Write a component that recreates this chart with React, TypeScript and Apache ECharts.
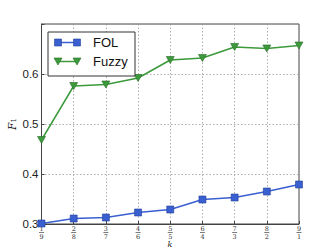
import React, { useEffect, useRef } from "react";
import * as echarts from "echarts";

const numerators = ["1", "2", "3", "4", "5", "6", "7", "8", "9"];
const denominators = ["9", "8", "7", "6", "5", "4", "3", "2", "1"];
const categories = numerators.map((n, i) => `${n}/${denominators[i]}`);
const folValues = [0.301, 0.311, 0.313, 0.323, 0.329, 0.349, 0.353, 0.365, 0.379];
const fuzzyValues = [0.468, 0.576, 0.579, 0.592, 0.628, 0.632, 0.654, 0.651, 0.657];
const yTicks = [0.3, 0.4, 0.5, 0.6];
const seriesNames = ["FOL", "Fuzzy"];
const xName = "k";
const yName = ["F", "1"];

const BLUE = "#3a5fd0";
const BLUE_EDGE = "#23409a";
const GREEN = "#3c9a3c";
const GREEN_EDGE = "#256b25";

export default function App() {
  const ref = useRef<HTMLDivElement>(null);
  useEffect(() => {
    if (!ref.current) return;
    const chart = echarts.init(ref.current, null, { renderer: "svg" });
    const legendX = 48, legendY = 32;
    chart.setOption({
      animation: false,
      backgroundColor: "#ffffff",
      grid: {
        left: 41.5,
        right: 33,
        top: 24,
        bottom: 25,
        containLabel: false,
        outerBoundsMode: "none",
        show: true,
        borderColor: "#444",
        borderWidth: 1,
        backgroundColor: "#ffffff",
      },
      xAxis: {
        type: "category",
        data: categories,
        boundaryGap: false,
        axisLine: { show: true, lineStyle: { color: "#444", width: 1 } },
        axisTick: { show: true, inside: true, length: 3, lineStyle: { color: "#444" } },
        splitLine: { show: true, lineStyle: { color: "#999", type: [1.5, 2], width: 0.8 } },
        axisLabel: {
          margin: 1.5,
          interval: 0,
          formatter: (v: string) => {
            const [n, d] = v.split("/");
            return `{n|${n}}\n{b| }\n{d|${d}}`;
          },
          rich: {
            n: { fontFamily: "DejaVu Serif", fontSize: 6.5, lineHeight: 6, color: "#333", align: "center" },
            b: { width: 5, height: 0.7, lineHeight: 2, backgroundColor: "#444", fontSize: 1, align: "center" },
            d: { fontFamily: "DejaVu Serif", fontSize: 6.5, lineHeight: 6.5, color: "#333", align: "center" },
          },
        },
      },
      yAxis: {
        type: "value",
        min: 0.3,
        max: 0.7,
        interval: 0.1,
        axisLine: { show: true, lineStyle: { color: "#444", width: 1 } },
        axisTick: { show: true, inside: true, length: 3, lineStyle: { color: "#444" } },
        splitLine: { show: true, lineStyle: { color: "#999", type: [1.5, 2], width: 0.8 } },
        axisLabel: {
          margin: 3,
          fontFamily: "Liberation Sans",
          fontSize: 11.5,
          color: "#222",
          formatter: (v: number) => {
            const t = yTicks.find((y) => Math.abs(y - v) < 1e-6);
            return t !== undefined ? t.toFixed(1) : "";
          },
        },
      },
      series: [
        {
          name: seriesNames[0],
          type: "line",
          data: folValues,
          symbol: "rect",
          symbolSize: 7,
          lineStyle: { color: BLUE, width: 1.5 },
          itemStyle: { color: BLUE, borderColor: BLUE_EDGE, borderWidth: 0.6 },
          z: 3,
        },
        {
          name: seriesNames[1],
          type: "line",
          data: fuzzyValues,
          symbol: "triangle",
          symbolRotate: 180,
          symbolSize: [8, 7],
          lineStyle: { color: GREEN, width: 1.5 },
          itemStyle: { color: GREEN, borderColor: GREEN_EDGE, borderWidth: 0.6 },
          z: 3,
        },
      ],
      graphic: [
        {
          type: "text",
          x: 170,
          y: 244.5,
          style: {
            text: xName,
            fontFamily: "DejaVu Serif",
            fontStyle: "italic",
            fontSize: 8,
            fill: "#222",
            align: "center",
            verticalAlign: "middle",
          },
        },
        {
          type: "text",
          x: 12,
          y: 124,
          rotation: Math.PI / 2,
          style: {
            text: `{f|${yName[0]}}{s|${yName[1]}}`,
            align: "center",
            verticalAlign: "middle",
            rich: {
              f: { fontFamily: "DejaVu Serif", fontStyle: "italic", fontSize: 10.5, fill: "#222" },
              s: { fontFamily: "DejaVu Serif", fontSize: 7, fill: "#222", padding: [4, 0, 0, 0] },
            },
          },
        },
        {
          type: "rect",
          shape: { x: legendX, y: legendY, width: 87, height: 44 },
          style: { fill: "#fff", stroke: "#333", lineWidth: 1 },
          z: 10,
        },
        {
          type: "line",
          shape: { x1: legendX + 10, y1: legendY + 10.5, x2: legendX + 29, y2: legendY + 10.5 },
          style: { stroke: BLUE, lineWidth: 1.5 },
          z: 11,
        },
        {
          type: "rect",
          shape: { x: legendX + 6.5, y: legendY + 7, width: 7, height: 7 },
          style: { fill: BLUE, stroke: BLUE_EDGE, lineWidth: 0.6 },
          z: 12,
        },
        {
          type: "rect",
          shape: { x: legendX + 25.5, y: legendY + 7, width: 7, height: 7 },
          style: { fill: BLUE, stroke: BLUE_EDGE, lineWidth: 0.6 },
          z: 12,
        },
        {
          type: "text",
          x: legendX + 45,
          y: legendY + 10.5,
          style: { text: seriesNames[0], fontFamily: "Liberation Sans", fontSize: 13, fill: "#111", verticalAlign: "middle" },
          z: 12,
        },
        {
          type: "line",
          shape: { x1: legendX + 10, y1: legendY + 29.5, x2: legendX + 29, y2: legendY + 29.5 },
          style: { stroke: GREEN, lineWidth: 1.5 },
          z: 11,
        },
        {
          type: "polygon",
          shape: { points: [[legendX + 6, legendY + 26], [legendX + 14, legendY + 26], [legendX + 10, legendY + 33]] },
          style: { fill: GREEN, stroke: GREEN_EDGE, lineWidth: 0.6 },
          z: 12,
        },
        {
          type: "polygon",
          shape: { points: [[legendX + 25, legendY + 26], [legendX + 33, legendY + 26], [legendX + 29, legendY + 33]] },
          style: { fill: GREEN, stroke: GREEN_EDGE, lineWidth: 0.6 },
          z: 12,
        },
        {
          type: "text",
          x: legendX + 45,
          y: legendY + 29.5,
          style: { text: seriesNames[1], fontFamily: "Liberation Sans", fontSize: 13, fill: "#111", verticalAlign: "middle" },
          z: 12,
        },
      ],
    });
    return () => chart.dispose();
  }, []);
  return (
    <div
      ref={ref}
      style={{ position: "fixed", left: 0, top: 0, width: 332, height: 249 }}
    />
  );
}
